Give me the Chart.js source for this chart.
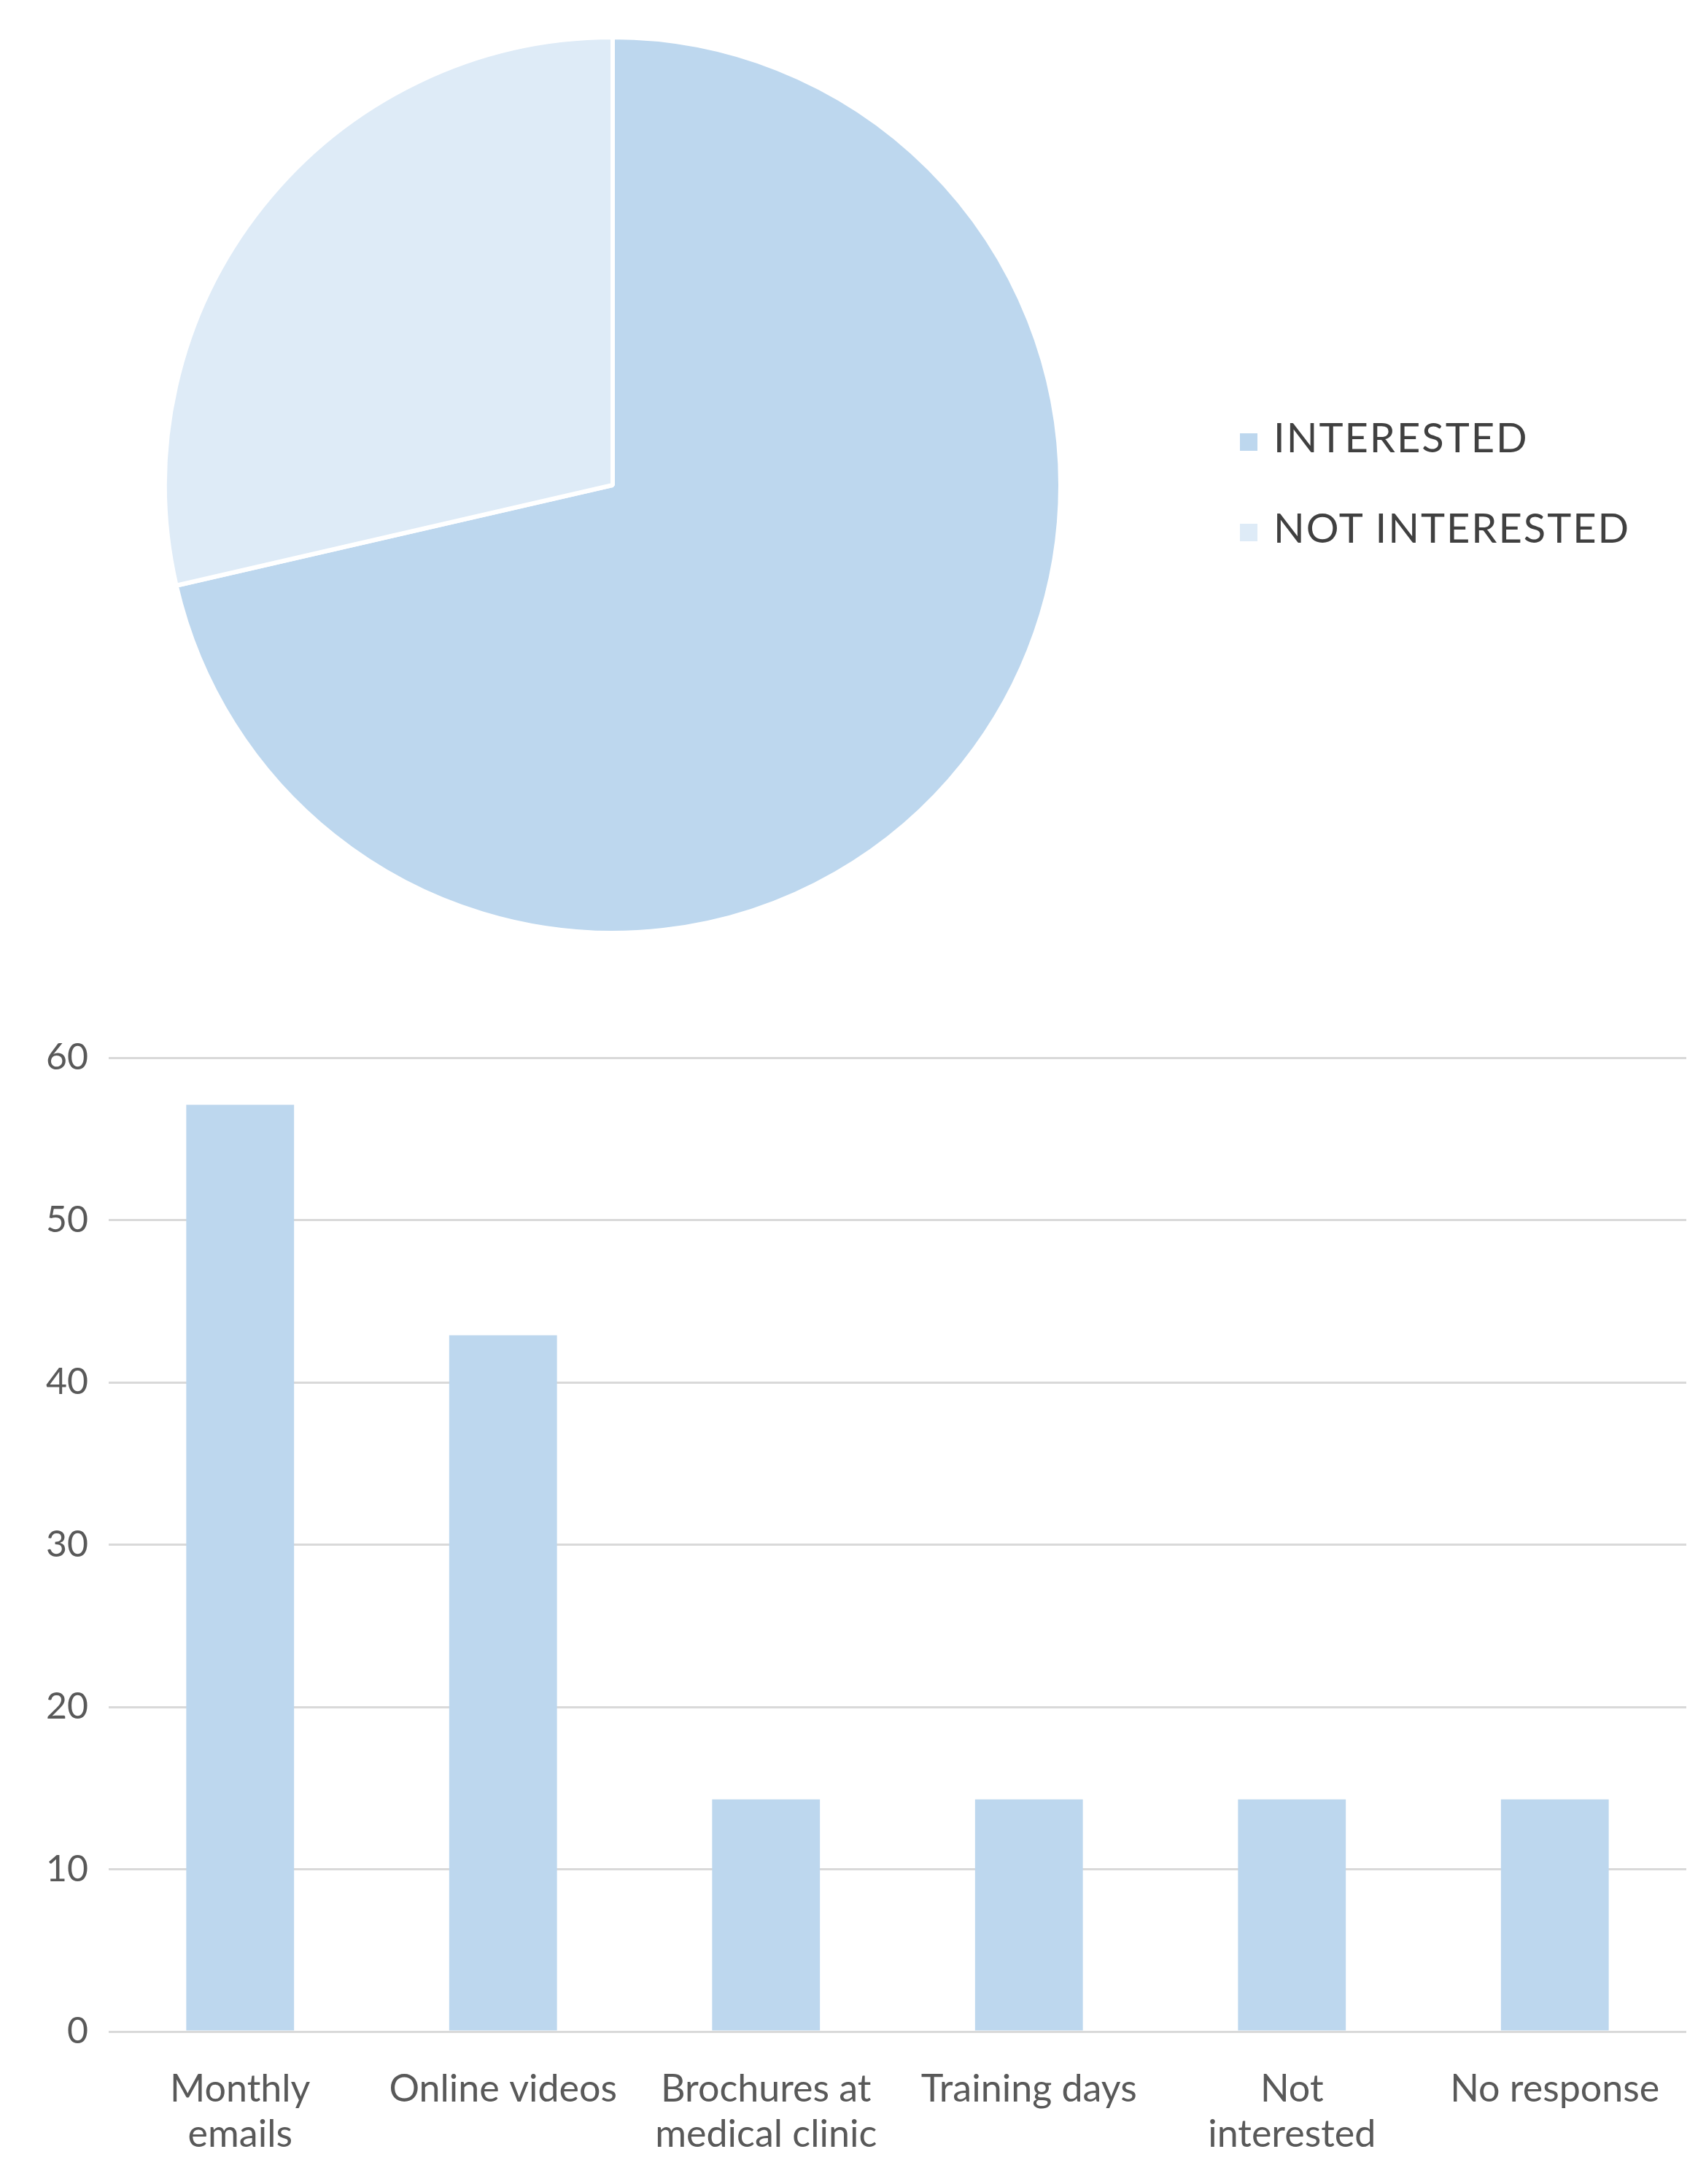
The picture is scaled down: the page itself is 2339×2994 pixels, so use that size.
<!DOCTYPE html>
<html>
<head>
<meta charset="utf-8">
<script src="https://cdn.jsdelivr.net/npm/chart.js@4/dist/chart.umd.min.js"></script>
<style>
body { margin:0; background:#fff; width:2339px; height:2994px; position:relative; overflow:hidden; font-family: Lato, "Open Sans", sans-serif; }
#pieBox { position:absolute; left:213px; top:38px; width:1254px; height:1254px; }
#barBox { position:absolute; left:0; top:1390px; width:2339px; height:1604px; }
.leg { position:absolute; left:1700px; font-size:56px; color:#404040; letter-spacing:2px; }
.leg span { display:inline-block; width:24px; height:24px; margin-right:22px; vertical-align:middle; }
</style>
</head>
<body>
<div id="pieBox"><canvas id="pie"></canvas></div>
<div class="leg" style="top:565px"><span style="background:#BDD7EE"></span>INTERESTED</div>
<div class="leg" style="top:689px"><span style="background:#DEEBF7"></span>NOT INTERESTED</div>
<div id="barBox"><canvas id="bar"></canvas></div>
<script>
// dados
const pieLabels = ["INTERESTED", "NOT INTERESTED"];
const pieValues = [71.4, 28.6];
const pieColors = ["#BDD7EE", "#DEEBF7"];

const barLabels = [["Monthly", "emails"], "Online videos", ["Brochures at", "medical clinic"], "Training days", ["Not", "interested"], "No response"];
const barValues = [57.1, 42.9, 14.3, 14.3, 14.3, 14.3];
const yTicks = [0, 10, 20, 30, 40, 50, 60];

Chart.defaults.font.family = "Lato, 'Open Sans', sans-serif";
Chart.defaults.color = "#595959";

new Chart(document.getElementById("pie"), {
    type: "pie",
    data: { labels: pieLabels, datasets: [{ data: pieValues, backgroundColor: pieColors, borderColor: "#fff", borderWidth: 6 }] },
    options: { responsive: true, maintainAspectRatio: false, animation: false,
        layout: { padding: 10 },
        plugins: { legend: { display: false }, tooltip: { enabled: false } } }
});

new Chart(document.getElementById("bar"), {
    type: "bar",
    data: { labels: barLabels, datasets: [{ data: barValues, backgroundColor: "#BDD7EE" }] },
    options: { responsive: true, maintainAspectRatio: false, animation: false,
        layout: { padding: { top: 60, right: 27 } },
        plugins: { legend: { display: false }, tooltip: { enabled: false } },
        datasets: { bar: { categoryPercentage: 1, barPercentage: 0.41 } },
        scales: {
            x: { grid: { display: false }, border: { display: false },
                 ticks: { font: { size: 52 }, padding: 40, maxRotation: 0, autoSkip: false },
                 afterFit: function(s) { s.height = 209; } },
            y: { min: 0, max: 60, border: { display: false },
                 grid: { color: "#d9d9d9", lineWidth: 3, drawTicks: false },
                 afterBuildTicks: function(s) { s.ticks = yTicks.map(function(v) { return { value: v }; }); },
                 ticks: { font: { size: 50 }, padding: 28 },
                 afterFit: function(s) { s.width = 149; } }
        } }
});
</script>
</body>
</html>
